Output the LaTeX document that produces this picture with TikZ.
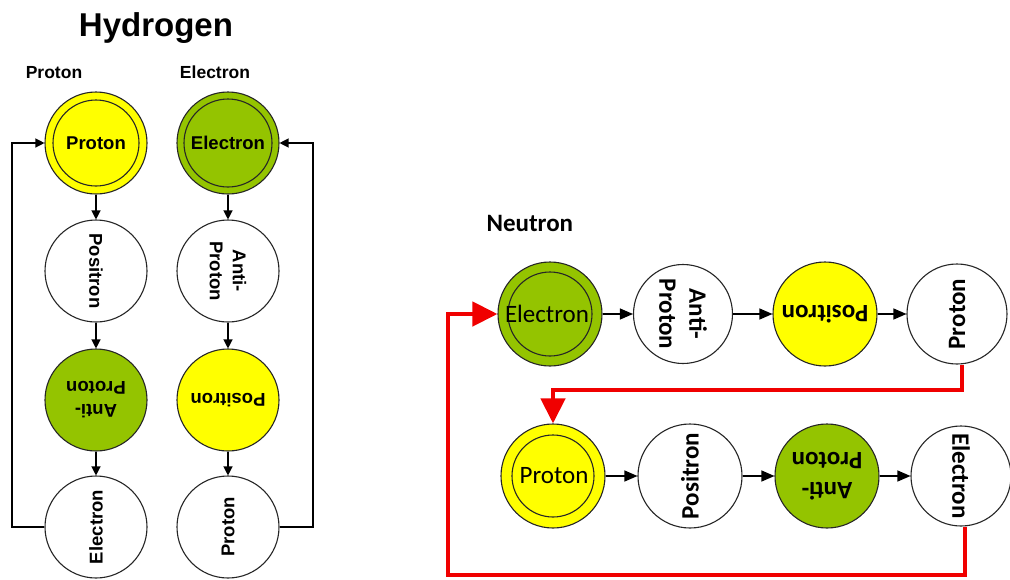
\documentclass[tikz,border=0pt]{standalone}
\usepackage{fontspec}
\setmainfont{Liberation Sans}
\newfontfamily\carlito{Carlito}
\usetikzlibrary{arrows.meta}
\definecolor{ylw}{RGB}{255,255,0}
\definecolor{grn}{RGB}{148,196,0}
\definecolor{redl}{RGB}{240,0,0}
\begin{document}
\begin{tikzpicture}[x=1pt,y=-1pt,
 ball/.style={circle,draw=black!85,line width=1.1pt,minimum size=102pt,inner sep=0pt},
 ring/.style={draw=black!85,line width=1.1pt},
 hlab/.style={font=\bfseries\fontsize{18.5}{23}\selectfont,align=center},
 nlab/.style={font=\carlito\bfseries\fontsize{25}{30}\selectfont,align=center},
 nreg/.style={font=\carlito\fontsize{25}{30}\selectfont,align=center},
 harr/.style={-{Triangle[length=9pt,width=9pt]},line width=1.2pt},
 narr/.style={-{Triangle[length=13pt,width=11pt]},line width=1.2pt},
 rarr/.style={-{Triangle[length=25pt,width=24pt]},line width=4.5pt,draw=redl,line join=miter}
]
\useasboundingbox (0,0) rectangle (1010,579);
% ---------------- Hydrogen ----------------
\node[font=\bfseries\fontsize{33}{38}\selectfont,anchor=base] (title) at (156,36) {Hydrogen};
\node[font=\bfseries\fontsize{17.5}{20}\selectfont,anchor=base] (tp) at (54,78) {Proton};
\node[font=\bfseries\fontsize{17.5}{20}\selectfont,anchor=base] (te) at (215,78) {Electron};

\node[ball,fill=ylw] (L1) at (96,143) {};
\draw[ring] (L1.center) circle (43);
\node[hlab] (L1t) at (L1) {Proton};
\node[ball,fill=white] (L2) at (96,271) {};
\node[hlab,rotate=-90] (L2t) at (L2) {Positron};
\node[ball,fill=grn] (L3) at (96,400) {};
\node[hlab,rotate=180] (L3t) at (L3) {Anti-\\Proton};
\node[ball,fill=white] (L4) at (96,527) {};
\node[hlab,rotate=90] (L4t) at (L4) {Electron};

\node[ball,fill=grn] (R1) at (228,143) {};
\draw[ring] (R1.center) circle (44);
\node[hlab] (R1t) at (R1) {Electron};
\node[ball,fill=white] (R2) at (228,271) {};
\node[hlab,rotate=-90] (R2t) at (R2) {Anti-\\Proton};
\node[ball,fill=ylw] (R3) at (228,400) {};
\node[hlab,rotate=180] (R3t) at (R3) {Positron};
\node[ball,fill=white] (R4) at (228,527) {};
\node[hlab,rotate=90] (R4t) at (R4) {Proton};

\draw[harr] (L1) -- (L2);
\draw[harr] (L2) -- (L3);
\draw[harr] (L3) -- (L4);
\draw[harr] (R1) -- (R2);
\draw[harr] (R2) -- (R3);
\draw[harr] (R3) -- (R4);
\draw[harr] (L4.west) -| (12,143) -- (L1.west);
\draw[harr] (R4.east) -| (313,143) -- (R1.east);

% ---------------- Neutron ----------------
\node[font=\carlito\bfseries\fontsize{25}{30}\selectfont,anchor=base west] (tn) at (483,231) {Neutron};

\node[ball,fill=grn,minimum size=104pt] (A1) at (550,314) {};
\draw[ring] (A1.center) circle (42);
\node[nreg] (A1t) at (547,314) {Electron};
\node[ball,fill=white,minimum size=99pt] (A2) at (683,314) {};
\node[nlab,rotate=-90] (A2t) at (A2) {Anti-\\Proton};
\node[ball,fill=ylw,minimum size=104pt] (A3) at (825,314) {};
\node[nlab,rotate=180] (A3t) at (A3) {Positron};
\node[ball,fill=white,minimum size=100pt] (A4) at (957,314) {};
\node[nlab,rotate=90] (A4t) at (A4) {Proton};

\node[ball,fill=ylw,minimum size=104pt] (B1) at (553,476) {};
\draw[ring] (B1.center) circle (41);
\node[nreg] (B1t) at (554,476) {Proton};
\node[ball,fill=white,minimum size=104pt] (B2) at (690,476) {};
\node[nlab,rotate=90] (B2t) at (B2) {Positron};
\node[ball,fill=grn,minimum size=104pt] (B3) at (827,476) {};
\node[nlab,rotate=180] (B3t) at (B3) {Anti-\\Proton};
\node[ball,fill=white,minimum size=100pt] (B4) at (961,476) {};
\node[nlab,rotate=-90] (B4t) at (B4) {Electron};

\draw[narr] (A1) -- (A2);
\draw[narr] (A2) -- (A3);
\draw[narr] (A3) -- (A4);
\draw[narr] (B1) -- (B2);
\draw[narr] (B2) -- (B3);
\draw[narr] (B3) -- (B4);

\coordinate (c1) at (962,390);
\coordinate (c2) at (553,390);
\draw[rarr] (A4.south -| c1) -- (c1) -- (c2) -- (B1.north);
\coordinate (c3) at (965,575);
\coordinate (c4) at (448,575);
\coordinate (c5) at (448,314);
\draw[rarr] (B4.south -| c3) -- (c3) -- (c4) -- (c5) -- (A1.west);
\end{tikzpicture}
\end{document}
